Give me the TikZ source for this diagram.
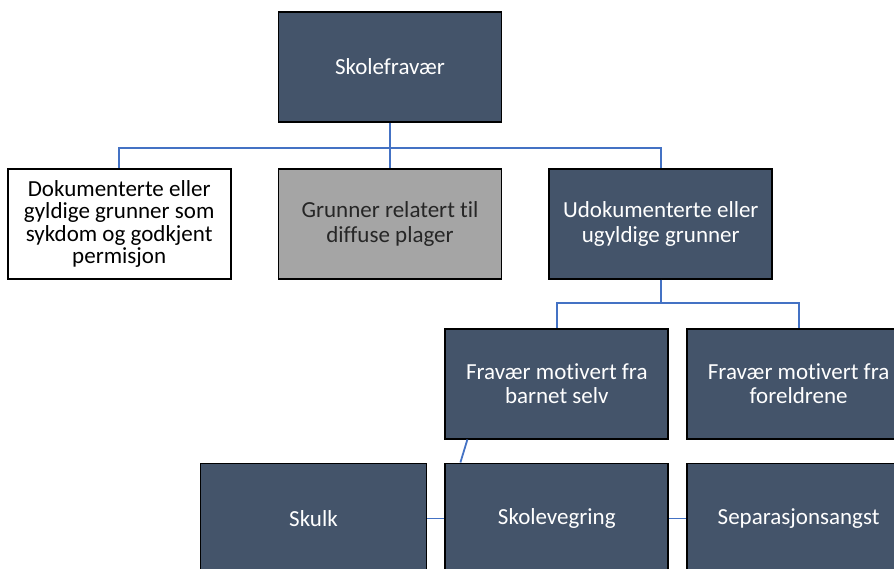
\documentclass[tikz,border=0pt]{standalone}
\usepackage{fontspec}
\setmainfont{Carlito}[Ligatures=NoCommon]
\usetikzlibrary{positioning,calc}
\definecolor{slate}{HTML}{44546A}
\definecolor{greybox}{HTML}{A5A5A5}
\definecolor{linkblue}{HTML}{4472C4}

\begin{document}
\begin{tikzpicture}[
   x=1pt, y=-1pt,
   node distance=45pt and 46pt,
   box/.style={rectangle, draw=black, line width=1.8pt, align=center,
               minimum width=223pt, minimum height=110pt, inner sep=2pt,
               font=\fontsize{23}{24.5}\selectfont},
   dark/.style={box, fill=slate, text=white},
   light/.style={box, fill=white, text=black, font=\fontsize{23}{22.5}\selectfont},
   grey/.style={box, fill=greybox, text=black!85},
   link/.style={draw=linkblue, line width=1.8pt}
]
\useasboundingbox (0,0) rectangle (894,569);
\clip (0,0) rectangle (894,569);
% Top
\node[dark] (top) at (390,67) {Skolefravær};
% Second row
\node[grey, below=45pt of top] (diffuse) {Grunner relatert til\\diffuse plager};
\node[light, left=46pt of diffuse] (valid) {Dokumenterte eller\\gyldige grunner som\\sykdom og godkjent\\permisjon};
\node[dark, right=46pt of diffuse] (invalid) {Udokumenterte eller\\ugyldige grunner};
% Third row
\node[dark, below=48pt of invalid, xshift=-104pt] (child) {Fravær motivert fra\\barnet selv};
\node[dark, right=17pt of child] (parents) {Fravær motivert fra\\foreldrene};
% Bottom row
\node[dark, below=23pt of child] (refusal) {Skolevegring};
\node[dark, left=17pt of refusal, minimum width=226pt] (truancy) {Skulk};
\node[dark, right=17pt of refusal] (separation) {Separasjonsangst};

% Connectors
\coordinate (split1) at ($(top.south)+(0,25)$);
\draw[link] (top.south) -- (split1);
\draw[link] (valid.north) |- (split1) -| (invalid.north);
\draw[link] (split1) -- (diffuse.north);

\coordinate (split2) at ($(invalid.south)+(0,23)$);
\draw[link] (invalid.south) -- (split2);
\draw[link] (child.north) |- (split2) -| (parents.north);

\coordinate (childfoot) at ($(child.south west)+(23,0)$);
\coordinate (refusalhead) at ($(refusal.north west)+(16,0)$);
\draw[link] (childfoot) -- (refusalhead);
\draw[link] (truancy.east) -- (refusal.west);
\draw[link] (refusal.east) -- (separation.west);
\end{tikzpicture}
\end{document}
